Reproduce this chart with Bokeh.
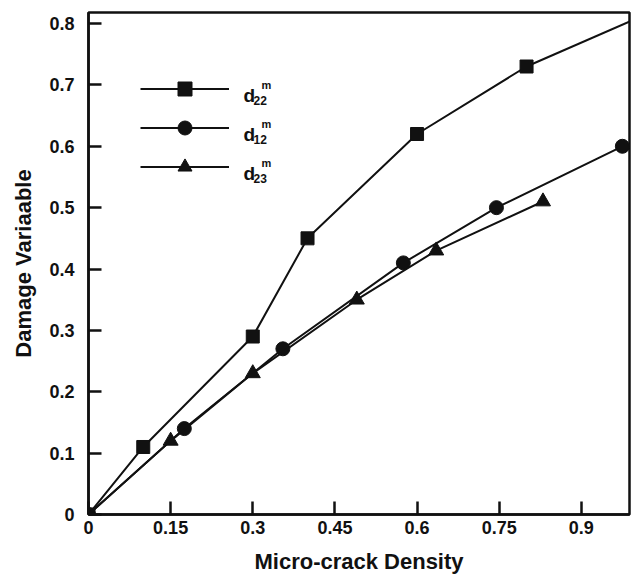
from bokeh.plotting import figure
from bokeh.models import FixedTicker, Legend, LegendItem, Label, Range1d
from bokeh.embed import file_html
from bokeh.resources import INLINE

# ---- data ----
d22_x = [0.0, 0.1, 0.3, 0.4, 0.6, 0.8]
d22_y = [0.0, 0.11, 0.29, 0.45, 0.62, 0.73]
d22_tail_x = [0.8, 1.0]
d22_tail_y = [0.73, 0.808]

d12_x = [0.0, 0.175, 0.355, 0.575, 0.745, 0.975]
d12_y = [0.0, 0.14, 0.27, 0.41, 0.50, 0.60]

d23_x = [0.0, 0.15, 0.30, 0.49, 0.635, 0.83]
d23_y = [0.0, 0.12, 0.23, 0.35, 0.43, 0.51]

x_ticks = [0, 0.15, 0.3, 0.45, 0.6, 0.75, 0.9]
x_tick_labels = ["0", "0.15", "0.3", "0.45", "0.6", "0.75", "0.9"]
y_ticks = [0, 0.1, 0.2, 0.3, 0.4, 0.5, 0.6, 0.7, 0.8]
y_tick_labels = ["0", "0.1", "0.2", "0.3", "0.4", "0.5", "0.6", "0.7", "0.8"]

legend_main = ["d", "d", "d"]
legend_sub = ["22", "12", "23"]
legend_sup = ["m", "m", "m"]

FONT = "Liberation Sans"
INK = "#111111"

FRAME_LEFT, FRAME_BOTTOM = 88, 514  # canvas pixels of the frame's bottom-left corner

p = figure(width=633, height=577, output_backend="svg", toolbar_location=None,
           x_range=Range1d(0, 0.988), y_range=Range1d(0, 0.818),
           min_border_left=88, min_border_right=4, min_border_top=12,
           min_border_bottom=63)
p.background_fill_color = "white"
p.border_fill_color = "white"
p.grid.visible = False
p.outline_line_color = INK
p.outline_line_width = 2.5

for ax in (p.xaxis[0], p.yaxis[0]):
    ax.axis_line_width = 2.5
    ax.axis_line_color = INK
    ax.major_tick_line_color = INK
    ax.major_tick_line_width = 2.5
    ax.major_tick_in = 13
    ax.major_tick_out = 0
    ax.minor_tick_line_color = None
    ax.major_label_text_font = FONT
    ax.major_label_text_font_style = "bold"
    ax.major_label_text_font_size = "18px"
    ax.major_label_text_color = INK
    ax.axis_label_text_font = FONT
    ax.axis_label_text_font_style = "bold"
    ax.axis_label_text_font_size = "22px"
    ax.axis_label_text_color = INK

p.xaxis.ticker = FixedTicker(ticks=x_ticks)
p.xaxis.major_label_overrides = {t: l for t, l in zip(x_ticks, x_tick_labels)}
p.yaxis.ticker = FixedTicker(ticks=y_ticks)
p.yaxis.major_label_overrides = {t: l for t, l in zip(y_ticks, y_tick_labels)}
p.xaxis.axis_label = "Micro-crack Density"
p.yaxis.axis_label = "Damage Variaable"
p.xaxis.major_label_standoff = 6
p.xaxis.axis_label_standoff = 12
p.yaxis.major_label_standoff = 14
p.yaxis.axis_label_standoff = 10

LW = 2
l22 = p.line(d22_x, d22_y, line_color=INK, line_width=LW)
p.line(d22_tail_x, d22_tail_y, line_color=INK, line_width=LW)
m22 = p.scatter(d22_x, d22_y, marker="square", size=13, fill_color=INK, line_color=INK)

l12 = p.line(d12_x, d12_y, line_color=INK, line_width=LW)
m12 = p.scatter(d12_x, d12_y, marker="circle", size=14, fill_color=INK, line_color=INK)

l23 = p.line(d23_x, d23_y, line_color=INK, line_width=LW)
m23 = p.scatter(d23_x, d23_y, marker="triangle", size=15, fill_color=INK, line_color=INK)

row_y = [88, 127, 166]  # canvas-from-top centres of legend rows
GH = 35
legend = Legend(items=[LegendItem(label=" ", renderers=[l22, m22]),
                       LegendItem(label=" ", renderers=[l12, m12]),
                       LegendItem(label=" ", renderers=[l23, m23])],
                location=(140 - FRAME_LEFT, FRAME_BOTTOM - (row_y[2] + GH / 2)),
                orientation="vertical",
                glyph_width=89, glyph_height=GH, spacing=39 - GH,
                label_width=0, label_standoff=0, label_height=GH,
                padding=0, margin=0,
                border_line_alpha=0, background_fill_alpha=0)
p.add_layout(legend, "center")

for i in range(3):
    yc = FRAME_BOTTOM - row_y[i]
    p.add_layout(Label(x=243 - FRAME_LEFT, y=yc - 7, x_units="screen", y_units="screen",
                       text=legend_main[i], text_font=FONT, text_font_style="bold",
                       text_font_size="19px", text_color=INK, text_baseline="alphabetic"))
    p.add_layout(Label(x=253 - FRAME_LEFT, y=yc - 12, x_units="screen", y_units="screen",
                       text=legend_sub[i], text_font=FONT, text_font_style="bold",
                       text_font_size="12px", text_color=INK, text_baseline="alphabetic"))
    p.add_layout(Label(x=261 - FRAME_LEFT, y=yc + 4, x_units="screen", y_units="screen",
                       text=legend_sup[i], text_font=FONT, text_font_style="bold",
                       text_font_size="11px", text_color=INK, text_baseline="alphabetic"))

open("out.html", "w").write(file_html(p, INLINE))
